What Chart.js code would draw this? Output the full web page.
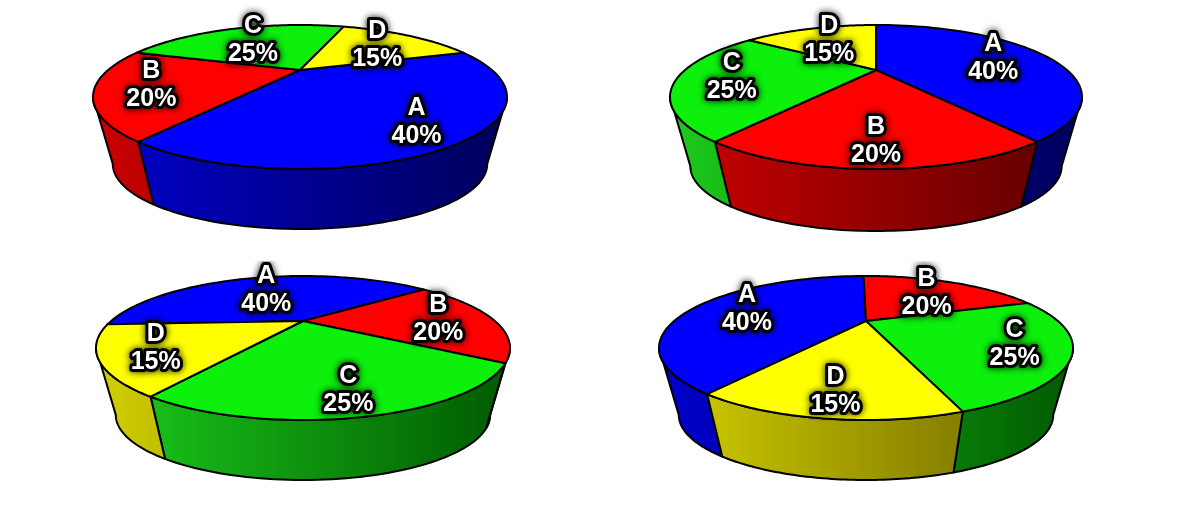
<!DOCTYPE html>
<html>
<head>
<meta charset="utf-8">
<script src="https://cdn.jsdelivr.net/npm/chart.js@4.4.1/dist/chart.umd.min.js"></script>
<style>
  html, body { margin: 0; padding: 0; background: #fff; }
  #wrap { position: relative; width: 1200px; height: 523px; overflow: hidden; }
  #wrap canvas { position: absolute; }
</style>
</head>
<body>
<div id="wrap">
  <canvas id="pie1" width="600" height="261" style="left:0;top:0"></canvas>
  <canvas id="pie2" width="600" height="261" style="left:600px;top:0"></canvas>
  <canvas id="pie3" width="600" height="262" style="left:0;top:261px"></canvas>
  <canvas id="pie4" width="600" height="262" style="left:600px;top:261px"></canvas>
</div>
<script>
const labels = ['A', 'B', 'C', 'D']
const values = [40, 20, 25, 15]
const topColors = ['#0000ff', '#ff0000', '#0cf00c', '#ffff00']
const sideLight = ['#0000cc', '#cc0000', '#1ccc1c', '#d2d000']
const sideDark = ['#00005c', '#5a0000', '#005a00', '#6a6000']
// start angle of slice A for each of the 4 pies (degrees, 0 = top)
const rotations = [72, 0, 267, 215]

// where each pie sits inside its canvas
const pies = [
  { id: 'pie1', cx: 300, cy: 97, rx: 207, ry: 72, depth: 60 },
  { id: 'pie2', cx: 276, cy: 97, rx: 206, ry: 72, depth: 62 },
  { id: 'pie3', cx: 303, cy: 87, rx: 207, ry: 72, depth: 60 },
  { id: 'pie4', cx: 266, cy: 87, rx: 207, ry: 72, depth: 60 }
]

const persp = -0.375   // how far the pie centre is pushed back
const vanish = 700     // vanishing point below the pie, for the side walls
const labelR = 0.72
const TAU = Math.PI * 2

// point on the tilted disc, th = angle from chart.js, f = fraction of radius
function discPoint(o, th, f) {
  const u = f * Math.cos(th), v = f * Math.sin(th)
  const d = 1 + persp * v
  return {
    x: o.cx + o.rx * u * Math.sqrt(1 - persp * persp) / d,
    y: o.cy + o.ry * (v + persp) / d
  }
}

function dropPoint(o, p) {
  const s = o.depth / (vanish - o.ry)
  return { x: p.x + s * (o.cx - p.x), y: p.y + s * (o.cy + vanish - p.y) }
}

// part of a slice whose wall faces the viewer
function frontRanges(start, end) {
  const a0 = Math.asin(-persp), a1 = Math.PI - a0
  const out = []
  for (let k = -1; k <= 2; k++) {
    const lo = Math.max(start, a0 + k * TAU)
    const hi = Math.min(end, a1 + k * TAU)
    if (hi > lo) out.push([lo, hi])
  }
  return out
}

const pie3d = {
  id: 'pie3d',
  beforeDatasetsDraw(chart, args, o) {
    const ctx = chart.ctx
    const arcs = chart.getDatasetMeta(0).data
    const steps = 60
    ctx.save()
    ctx.lineJoin = 'round'

    // side walls
    arcs.forEach((arc, i) => {
      frontRanges(arc.startAngle, arc.endAngle).forEach(([lo, hi]) => {
        const top = [], bot = []
        for (let s = 0; s <= steps; s++) {
          const p = discPoint(o, lo + (hi - lo) * s / steps, 1)
          top.push(p)
          bot.push(dropPoint(o, p))
        }
        ctx.beginPath()
        top.forEach((p, k) => k ? ctx.lineTo(p.x, p.y) : ctx.moveTo(p.x, p.y))
        for (let k = bot.length - 1; k >= 0; k--) ctx.lineTo(bot[k].x, bot[k].y)
        ctx.closePath()
        const g = ctx.createLinearGradient(o.cx - o.rx, 0, o.cx + o.rx, 0)
        g.addColorStop(0, o.sideLight[i])
        g.addColorStop(1, o.sideDark[i])
        ctx.fillStyle = g
        ctx.fill()
        ctx.strokeStyle = arc.options.borderColor
        ctx.lineWidth = arc.options.borderWidth
        ctx.stroke()
      })
    })

    // top faces
    const c = discPoint(o, 0, 0)
    arcs.forEach((arc) => {
      ctx.beginPath()
      ctx.moveTo(c.x, c.y)
      for (let s = 0; s <= steps; s++) {
        const p = discPoint(o, arc.startAngle + (arc.endAngle - arc.startAngle) * s / steps, 1)
        ctx.lineTo(p.x, p.y)
      }
      ctx.closePath()
      ctx.fillStyle = arc.options.backgroundColor
      ctx.fill()
      ctx.strokeStyle = arc.options.borderColor
      ctx.lineWidth = arc.options.borderWidth
      ctx.stroke()
    })
    ctx.restore()
    return false
  },
  afterDraw(chart, args, o) {
    const ctx = chart.ctx
    const arcs = chart.getDatasetMeta(0).data
    const data = chart.data.datasets[0].data
    const total = data.reduce((a, b) => a + b, 0)
    const c = discPoint(o, 0, 0)
    ctx.save()
    ctx.font = 'bold 25px "Liberation Sans", Arial, sans-serif'
    ctx.textAlign = 'center'
    ctx.textBaseline = 'middle'
    ctx.lineJoin = 'round'
    arcs.forEach((arc, i) => {
      const rim = discPoint(o, (arc.startAngle + arc.endAngle) / 2, 1)
      const p = { x: c.x + labelR * (rim.x - c.x), y: c.y + labelR * (rim.y - c.y) }
      const lines = [[chart.data.labels[i], p.y - 14], [Math.round(data[i] / total * 100) + '%', p.y + 14]]
      lines.forEach(([t, y]) => {
        ctx.shadowColor = 'rgba(0,0,0,0.9)'
        ctx.shadowBlur = 7
        ctx.lineWidth = 6
        ctx.strokeStyle = '#000'
        ctx.strokeText(t, p.x, y)
        ctx.shadowColor = 'transparent'
        ctx.shadowBlur = 0
        ctx.fillStyle = '#fff'
        ctx.fillText(t, p.x, y)
      })
    })
    ctx.restore()
  }
}

pies.forEach((pie, n) => {
  new Chart(document.getElementById(pie.id), {
    type: 'pie',
    data: {
      labels: labels,
      datasets: [{
        data: values,
        backgroundColor: topColors,
        borderColor: '#000',
        borderWidth: 2
      }]
    },
    options: {
      responsive: false,
      animation: false,
      rotation: rotations[n],
      events: [],
      plugins: {
        legend: { display: false },
        tooltip: { enabled: false },
        pie3d: Object.assign({ sideLight: sideLight, sideDark: sideDark }, pie)
      }
    },
    plugins: [pie3d]
  })
})
</script>
</body>
</html>
